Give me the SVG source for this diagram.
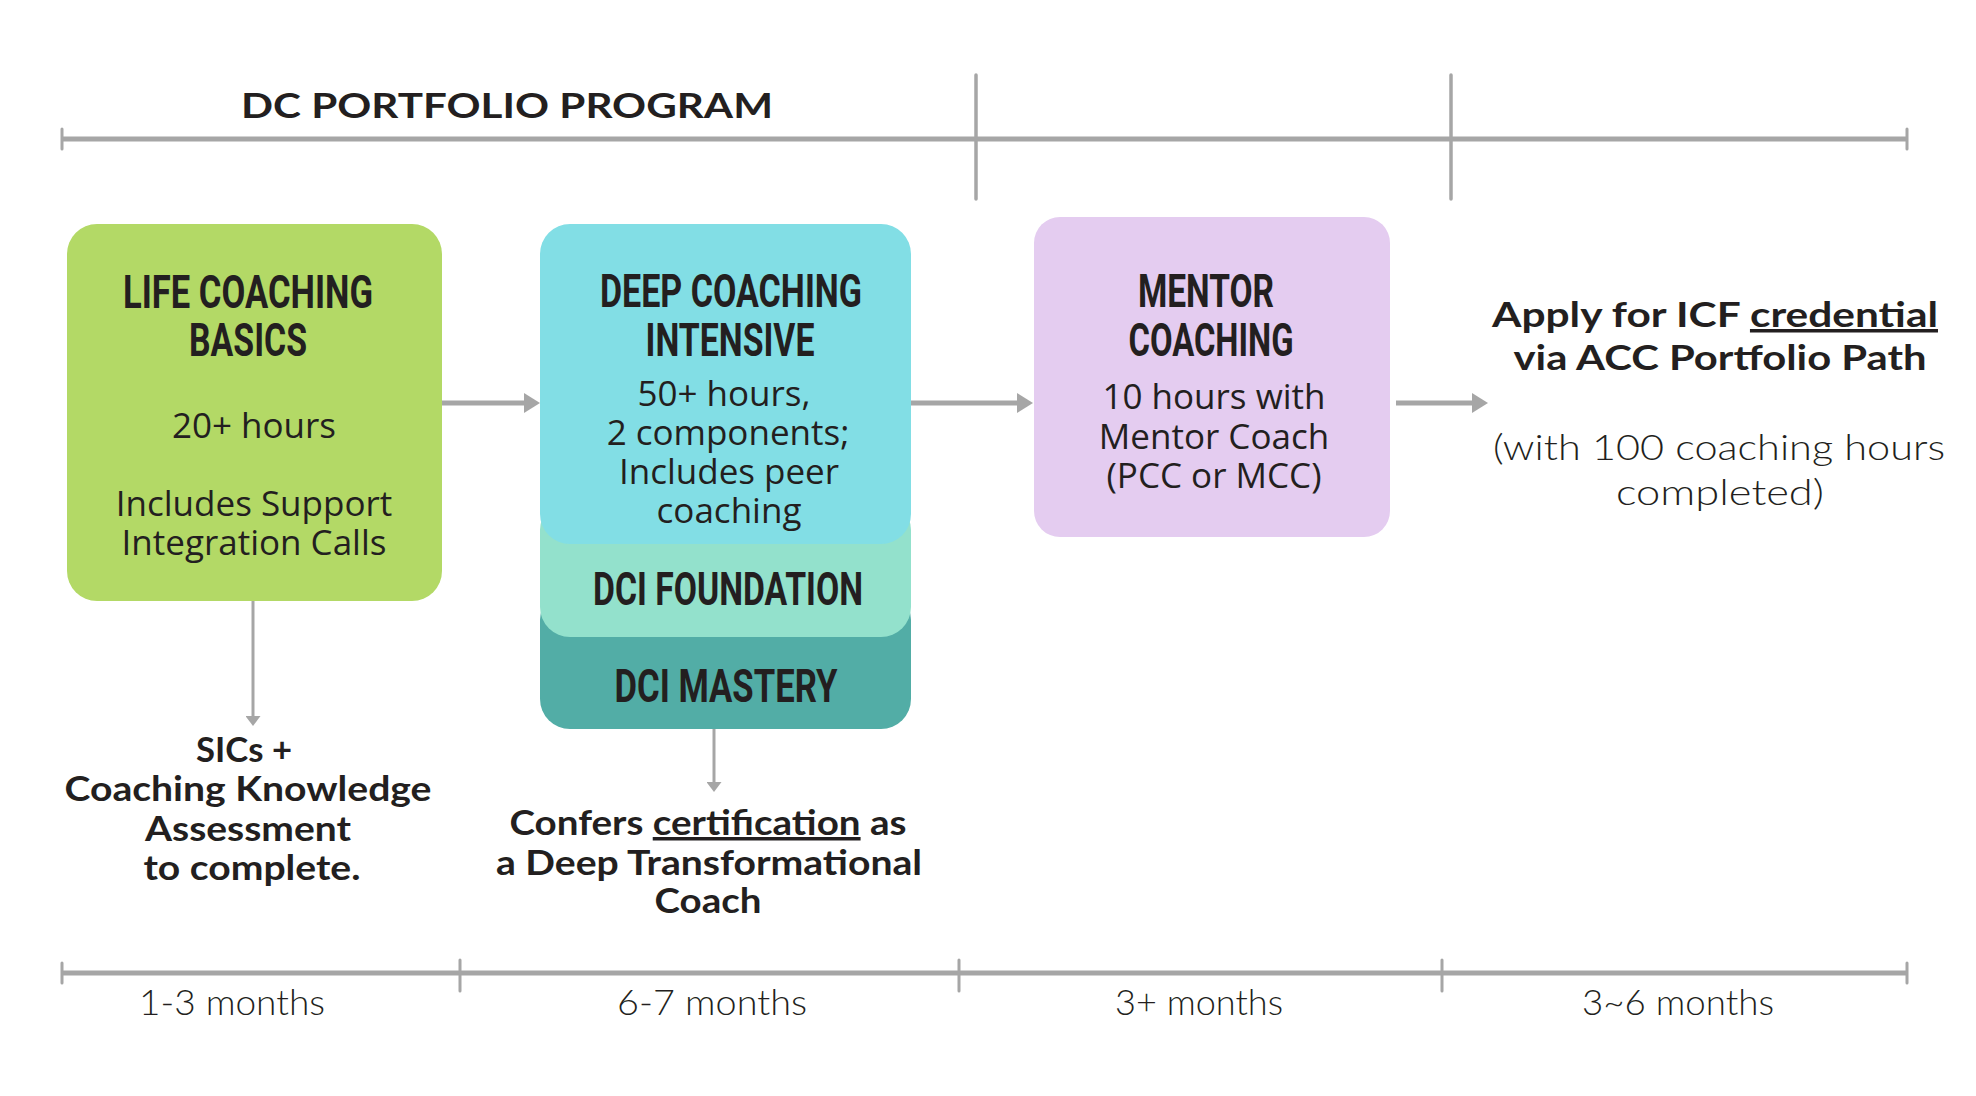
<svg xmlns="http://www.w3.org/2000/svg" width="1976" height="1096" viewBox="0 0 1976 1096">
<style>
.t{font-family:Roboto,"Liberation Sans",sans-serif;font-weight:700;font-size:47px;fill:#231F20;text-anchor:middle}
.b{font-family:"Open Sans","Noto Sans",sans-serif;font-size:35px;fill:#231F20;text-anchor:middle}
.r{font-family:Lato,"Liberation Sans",sans-serif;font-weight:700;font-size:35px;fill:#231F20;text-anchor:middle}
.l{font-family:Lato,"Liberation Sans",sans-serif;font-weight:300;font-size:35px;fill:#231F20;text-anchor:middle}
.ax{stroke:#A6A6A6;fill:none}
.u{text-decoration:underline}
</style>
<defs>
<marker id="ah" markerUnits="userSpaceOnUse" markerWidth="16" markerHeight="20" refX="4" refY="10" orient="auto" viewBox="0 0 16 20">
<path d="M0,0 L16,10 L0,20 Z" fill="#A6A6A6"/>
</marker>
<marker id="av" markerUnits="userSpaceOnUse" markerWidth="10" markerHeight="15" refX="3" refY="7.5" orient="auto" viewBox="0 0 10 15">
<path d="M0,0 L10,7.5 L0,15 Z" fill="#A6A6A6"/>
</marker>
</defs>
<rect width="1976" height="1096" fill="#FFFFFF"/>

<g id="timeline-top">
<line class="ax" x1="62" y1="139" x2="1907" y2="139" stroke-width="5"/>
<line class="ax" x1="62" y1="129" x2="62" y2="149" stroke-width="3" stroke-linecap="round"/>
<line class="ax" x1="1907" y1="129" x2="1907" y2="149" stroke-width="3" stroke-linecap="round"/>
<line class="ax" x1="976" y1="75" x2="976" y2="199" stroke-width="3.5" stroke-linecap="round"/>
<line class="ax" x1="1451" y1="75" x2="1451" y2="199" stroke-width="3.5" stroke-linecap="round"/>
<text class="r" x="507" y="118" font-size="40" textLength="532" lengthAdjust="spacingAndGlyphs">DC PORTFOLIO PROGRAM</text>
</g>

<g id="timeline-bottom">
<line class="ax" x1="62" y1="973" x2="1907" y2="973" stroke-width="5"/>
<line class="ax" x1="62" y1="963" x2="62" y2="983" stroke-width="3" stroke-linecap="round"/>
<line class="ax" x1="1907" y1="963" x2="1907" y2="983" stroke-width="3" stroke-linecap="round"/>
<line class="ax" x1="460" y1="960" x2="460" y2="991" stroke-width="3" stroke-linecap="round"/>
<line class="ax" x1="959" y1="960" x2="959" y2="991" stroke-width="3" stroke-linecap="round"/>
<line class="ax" x1="1442" y1="960" x2="1442" y2="991" stroke-width="3" stroke-linecap="round"/>
<text class="l" x="232" y="1015" textLength="186" lengthAdjust="spacingAndGlyphs">1-3 months</text>
<text class="l" x="712" y="1015" textLength="190" lengthAdjust="spacingAndGlyphs">6-7 months</text>
<text class="l" x="1199" y="1015" textLength="168" lengthAdjust="spacingAndGlyphs">3+ months</text>
<text class="l" x="1678" y="1015" textLength="192" lengthAdjust="spacingAndGlyphs">3~6 months</text>
</g>

<g id="connectors">
<line class="ax" x1="441" y1="403" x2="528" y2="403" stroke-width="5" marker-end="url(#ah)"/>
<line class="ax" x1="911" y1="403" x2="1021" y2="403" stroke-width="5" marker-end="url(#ah)"/>
<line class="ax" x1="1396" y1="403" x2="1476" y2="403" stroke-width="5" marker-end="url(#ah)"/>
<line class="ax" x1="253" y1="600" x2="253" y2="719" stroke-width="3" marker-end="url(#av)"/>
<line class="ax" x1="714" y1="729" x2="714" y2="785" stroke-width="3" marker-end="url(#av)"/>
</g>

<g id="life-coaching-basics">
<rect x="67" y="224" width="375" height="377" rx="30" fill="#B3D966"/>
<text class="t" x="248" y="308" textLength="250" lengthAdjust="spacingAndGlyphs">LIFE COACHING</text>
<text class="t" x="248" y="356" textLength="118" lengthAdjust="spacingAndGlyphs">BASICS</text>
<text class="b" x="254" y="438">20+ hours</text>
<text class="b" x="254" y="516">Includes Support</text>
<text class="b" x="254" y="555">Integration Calls</text>
</g>

<g id="dci-mastery">
<rect x="540" y="590" width="371" height="139" rx="30" fill="#52ADA6"/>
<text class="t" x="726" y="702" textLength="223" lengthAdjust="spacingAndGlyphs">DCI MASTERY</text>
</g>

<g id="dci-foundation">
<rect x="540" y="500" width="371" height="137" rx="30" fill="#93E1CC"/>
<text class="t" x="728" y="605" textLength="270" lengthAdjust="spacingAndGlyphs">DCI FOUNDATION</text>
</g>

<g id="deep-coaching-intensive">
<rect x="540" y="224" width="371" height="320" rx="30" fill="#82DEE5"/>
<text class="t" x="731" y="307" textLength="262" lengthAdjust="spacingAndGlyphs">DEEP COACHING</text>
<text class="t" x="730" y="356" textLength="169" lengthAdjust="spacingAndGlyphs">INTENSIVE</text>
<text class="b" x="724" y="406">50+ hours,</text>
<text class="b" x="728" y="445">2 components;</text>
<text class="b" x="729" y="484">Includes peer</text>
<text class="b" x="729" y="523">coaching</text>
</g>

<g id="mentor-coaching">
<rect x="1034" y="217" width="356" height="320" rx="26" fill="#E4CCF0"/>
<text class="t" x="1206" y="307" textLength="136" lengthAdjust="spacingAndGlyphs">MENTOR</text>
<text class="t" x="1211" y="356" textLength="165" lengthAdjust="spacingAndGlyphs">COACHING</text>
<text class="b" x="1214" y="409">10 hours with</text>
<text class="b" x="1214" y="449">Mentor Coach</text>
<text class="b" x="1214" y="488">(PCC or MCC)</text>
</g>

<g id="apply-icf">
<text class="r" x="1715" y="327" textLength="446" lengthAdjust="spacingAndGlyphs">Apply for ICF <tspan class="u">credential</tspan></text>
<text class="r" x="1720" y="370" textLength="413" lengthAdjust="spacingAndGlyphs">via ACC Portfolio Path</text>
<text class="l" x="1719" y="460" textLength="452" lengthAdjust="spacingAndGlyphs">(with 100 coaching hours</text>
<text class="l" x="1720" y="505" textLength="208" lengthAdjust="spacingAndGlyphs">completed)</text>
</g>

<g id="sics-note">
<text class="r" x="244" y="762" textLength="96" lengthAdjust="spacingAndGlyphs">SICs +</text>
<text class="r" x="248" y="801" textLength="367" lengthAdjust="spacingAndGlyphs">Coaching Knowledge</text>
<text class="r" x="248" y="841" textLength="206" lengthAdjust="spacingAndGlyphs">Assessment</text>
<text class="r" x="252" y="880" textLength="217" lengthAdjust="spacingAndGlyphs">to complete.</text>
</g>

<g id="certification-note">
<text class="r" x="708" y="835" textLength="397" lengthAdjust="spacingAndGlyphs">Confers <tspan class="u">certification</tspan> as</text>
<text class="r" x="709" y="875" textLength="426" lengthAdjust="spacingAndGlyphs">a Deep Transformational</text>
<text class="r" x="708" y="913" textLength="107" lengthAdjust="spacingAndGlyphs">Coach</text>
</g>
</svg>
